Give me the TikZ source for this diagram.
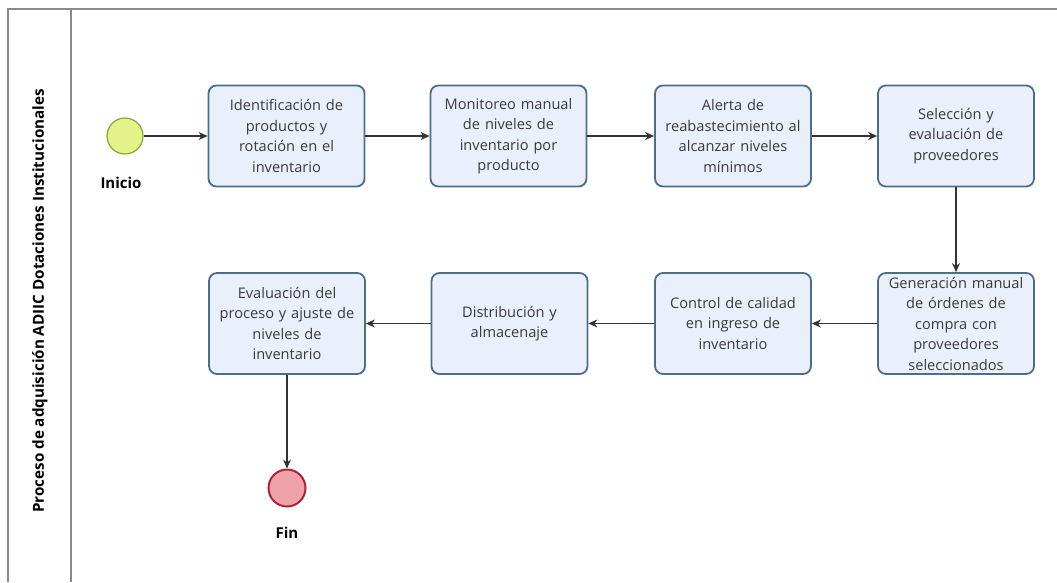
\documentclass[tikz,border=0pt]{standalone}
\usepackage{fontspec}
\setmainfont{Open Sans}
\usetikzlibrary{arrows.meta}
\definecolor{taskfill}{HTML}{EAEFFC}
\definecolor{taskline}{HTML}{4C6F88}
\definecolor{startfill}{HTML}{E4F28A}
\definecolor{startline}{HTML}{8BA33C}
\definecolor{endfill}{HTML}{F0A2AA}
\definecolor{endline}{HTML}{A8283A}
\definecolor{poolline}{HTML}{8A8A8A}
\definecolor{txt}{HTML}{3A3A3A}
\tikzset{
  task/.style={draw=taskline, line width=1.8pt, fill=taskfill, rounded corners=8pt,
    minimum width=156pt, minimum height=101pt, text width=152pt, align=center,
    font=\fontsize{14.6}{20.5}\selectfont, text=txt, inner sep=0pt},
  startev/.style={circle, draw=startline, line width=1.2pt, fill=startfill, minimum size=36pt, inner sep=0pt},
  endev/.style={circle, draw=endline, line width=2pt, fill=endfill, minimum size=37pt, inner sep=0pt},
  evlabel/.style={font=\bfseries\fontsize{15}{18}\selectfont, text=black},
  flow/.style={draw=black!80, line width=1.1pt, -{Stealth[length=9pt,width=8pt]}},
  pool/.style={draw=poolline, line width=1.6pt}
}
\begin{document}
\begin{tikzpicture}[x=1pt, y=-1pt]
\useasboundingbox (0,0) rectangle (1057,582);
\fill[white] (0,0) rectangle (1057,582);
% pool frame and header lane
\draw[pool] (1057,9) -- (8,9) -- (8,582);
\draw[pool] (71,9) -- (71,582);
\node[rotate=90, font=\bfseries\fontsize{15.2}{18}\selectfont, text=black] (pooltitle) at (40,301)
  {Proceso de adquisición ADIIC Dotaciones Institucionales};
% events
\node[startev] (inicio) at (125,136) {};
\node[evlabel] (inicioLbl) at (121,183) {Inicio};
\node[endev] (fin) at (287,488) {};
\node[evlabel] (finLbl) at (287,533) {Fin};
% tasks, first row
\node[task] (t1) at (286.5,136) {Identificación de\\productos y\\rotación en el\\inventario};
\node[task] (t2) at (508.5,136) {Monitoreo manual\\de niveles de\\inventario por\\producto};
\node[task] (t3) at (733,136) {Alerta de\\reabastecimiento al\\alcanzar niveles\\mínimos};
\node[task] (t4) at (956,136) {Selección y\\evaluación de\\proveedores};
% tasks, second row
\node[task] (t5) at (956,323.5) {Generación manual\\de órdenes de\\compra con\\proveedores\\seleccionados};
\node[task] (t6) at (733,323.5) {Control de calidad\\en ingreso de\\inventario};
\node[task] (t7) at (509.5,323.5) {Distribución y\\almacenaje};
\node[task] (t8) at (287,323.5) {Evaluación del\\proceso y ajuste de\\niveles de\\inventario};
% sequence flows
\draw[flow] (inicio) -- (t1);
\draw[flow] (t1) -- (t2);
\draw[flow] (t2) -- (t3);
\draw[flow] (t3) -- (t4);
\draw[flow] (t4) -- (t5);
\draw[flow] (t5) -- (t6);
\draw[flow] (t6) -- (t7);
\draw[flow] (t7) -- (t8);
\draw[flow] (t8) -- (fin);
\end{tikzpicture}
\end{document}
